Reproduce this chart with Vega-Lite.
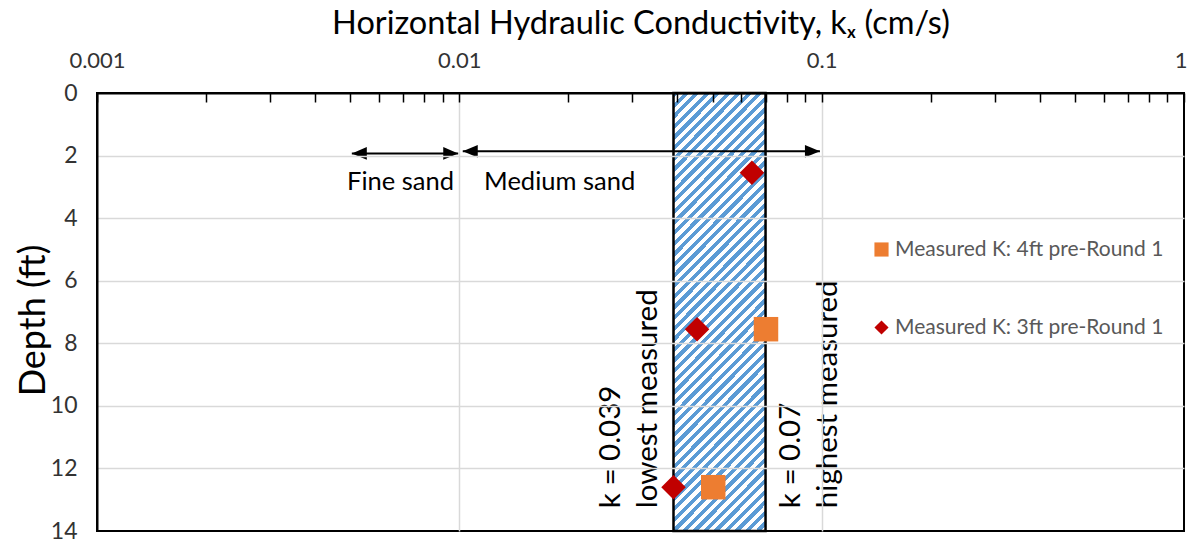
{
  "$schema": "https://vega.github.io/schema/vega-lite/v6.json",
  "width": 1087,
  "height": 438,
  "autosize": {"type": "none"},
  "padding": {"left": 97, "top": 93, "right": 4, "bottom": 15},
  "background": "white",
  "config": {"view": {"stroke": "black", "strokeWidth": 2}, "font": "Lato"},
  "datasets": {
    "range": [{"lo": 0.039, "hi": 0.07, "top": 0, "bottom": 14}],
    "arrows": [
      {"from": 0.00505, "to": 0.00993, "depth": 1.93},
      {"from": 0.01022, "to": 0.0989, "depth": 1.86}
    ],
    "labels": [
      {"text": "Fine sand", "k": 0.00688, "depth": 3.09},
      {"text": "Medium sand", "k": 0.01892, "depth": 3.09}
    ],
    "vlabels": [
      {"text": "k = 0.039", "k": 0.02775, "depth": 13.27},
      {"text": "lowest measured", "k": 0.03513, "depth": 13.27},
      {"text": "k = 0.07", "k": 0.08713, "depth": 13.27},
      {"text": "highest measured", "k": 0.1102, "depth": 13.27}
    ],
    "points": [
      {"series": "Measured K: 3ft pre-Round 1", "k": 0.0642, "depth": 2.55},
      {"series": "Measured K: 3ft pre-Round 1", "k": 0.0453, "depth": 7.55},
      {"series": "Measured K: 3ft pre-Round 1", "k": 0.039, "depth": 12.6},
      {"series": "Measured K: 4ft pre-Round 1", "k": 0.0702, "depth": 7.55},
      {"series": "Measured K: 4ft pre-Round 1", "k": 0.0502, "depth": 12.6}
    ]
  },
  "layer": [
    {
      "data": {"name": "range"},
      "mark": {
        "type": "rect",
        "stroke": "black",
        "strokeWidth": 2.5,
        "fill": {
          "gradient": "linear",
          "x1": 0, "y1": 0, "x2": 0.2463, "y2": 1.16,
          "stops": [
            {"offset": 0, "color": "#5B9BD5"}, {"offset": 0.01, "color": "#5B9BD5"}, {"offset": 0.01, "color": "#fff"}, {"offset": 0.02, "color": "#fff"},
            {"offset": 0.02, "color": "#5B9BD5"}, {"offset": 0.03, "color": "#5B9BD5"}, {"offset": 0.03, "color": "#fff"}, {"offset": 0.04, "color": "#fff"},
            {"offset": 0.04, "color": "#5B9BD5"}, {"offset": 0.05, "color": "#5B9BD5"}, {"offset": 0.05, "color": "#fff"}, {"offset": 0.06, "color": "#fff"},
            {"offset": 0.06, "color": "#5B9BD5"}, {"offset": 0.07, "color": "#5B9BD5"}, {"offset": 0.07, "color": "#fff"}, {"offset": 0.08, "color": "#fff"},
            {"offset": 0.08, "color": "#5B9BD5"}, {"offset": 0.09, "color": "#5B9BD5"}, {"offset": 0.09, "color": "#fff"}, {"offset": 0.1, "color": "#fff"},
            {"offset": 0.1, "color": "#5B9BD5"}, {"offset": 0.11, "color": "#5B9BD5"}, {"offset": 0.11, "color": "#fff"}, {"offset": 0.12, "color": "#fff"},
            {"offset": 0.12, "color": "#5B9BD5"}, {"offset": 0.13, "color": "#5B9BD5"}, {"offset": 0.13, "color": "#fff"}, {"offset": 0.14, "color": "#fff"},
            {"offset": 0.14, "color": "#5B9BD5"}, {"offset": 0.15, "color": "#5B9BD5"}, {"offset": 0.15, "color": "#fff"}, {"offset": 0.16, "color": "#fff"},
            {"offset": 0.16, "color": "#5B9BD5"}, {"offset": 0.17, "color": "#5B9BD5"}, {"offset": 0.17, "color": "#fff"}, {"offset": 0.18, "color": "#fff"},
            {"offset": 0.18, "color": "#5B9BD5"}, {"offset": 0.19, "color": "#5B9BD5"}, {"offset": 0.19, "color": "#fff"}, {"offset": 0.2, "color": "#fff"},
            {"offset": 0.2, "color": "#5B9BD5"}, {"offset": 0.21, "color": "#5B9BD5"}, {"offset": 0.21, "color": "#fff"}, {"offset": 0.22, "color": "#fff"},
            {"offset": 0.22, "color": "#5B9BD5"}, {"offset": 0.23, "color": "#5B9BD5"}, {"offset": 0.23, "color": "#fff"}, {"offset": 0.24, "color": "#fff"},
            {"offset": 0.24, "color": "#5B9BD5"}, {"offset": 0.25, "color": "#5B9BD5"}, {"offset": 0.25, "color": "#fff"}, {"offset": 0.26, "color": "#fff"},
            {"offset": 0.26, "color": "#5B9BD5"}, {"offset": 0.27, "color": "#5B9BD5"}, {"offset": 0.27, "color": "#fff"}, {"offset": 0.28, "color": "#fff"},
            {"offset": 0.28, "color": "#5B9BD5"}, {"offset": 0.29, "color": "#5B9BD5"}, {"offset": 0.29, "color": "#fff"}, {"offset": 0.3, "color": "#fff"},
            {"offset": 0.3, "color": "#5B9BD5"}, {"offset": 0.31, "color": "#5B9BD5"}, {"offset": 0.31, "color": "#fff"}, {"offset": 0.32, "color": "#fff"},
            {"offset": 0.32, "color": "#5B9BD5"}, {"offset": 0.33, "color": "#5B9BD5"}, {"offset": 0.33, "color": "#fff"}, {"offset": 0.34, "color": "#fff"},
            {"offset": 0.34, "color": "#5B9BD5"}, {"offset": 0.35, "color": "#5B9BD5"}, {"offset": 0.35, "color": "#fff"}, {"offset": 0.36, "color": "#fff"},
            {"offset": 0.36, "color": "#5B9BD5"}, {"offset": 0.37, "color": "#5B9BD5"}, {"offset": 0.37, "color": "#fff"}, {"offset": 0.38, "color": "#fff"},
            {"offset": 0.38, "color": "#5B9BD5"}, {"offset": 0.39, "color": "#5B9BD5"}, {"offset": 0.39, "color": "#fff"}, {"offset": 0.4, "color": "#fff"},
            {"offset": 0.4, "color": "#5B9BD5"}, {"offset": 0.41, "color": "#5B9BD5"}, {"offset": 0.41, "color": "#fff"}, {"offset": 0.42, "color": "#fff"},
            {"offset": 0.42, "color": "#5B9BD5"}, {"offset": 0.43, "color": "#5B9BD5"}, {"offset": 0.43, "color": "#fff"}, {"offset": 0.44, "color": "#fff"},
            {"offset": 0.44, "color": "#5B9BD5"}, {"offset": 0.45, "color": "#5B9BD5"}, {"offset": 0.45, "color": "#fff"}, {"offset": 0.46, "color": "#fff"},
            {"offset": 0.46, "color": "#5B9BD5"}, {"offset": 0.47, "color": "#5B9BD5"}, {"offset": 0.47, "color": "#fff"}, {"offset": 0.48, "color": "#fff"},
            {"offset": 0.48, "color": "#5B9BD5"}, {"offset": 0.49, "color": "#5B9BD5"}, {"offset": 0.49, "color": "#fff"}, {"offset": 0.5, "color": "#fff"},
            {"offset": 0.5, "color": "#5B9BD5"}, {"offset": 0.51, "color": "#5B9BD5"}, {"offset": 0.51, "color": "#fff"}, {"offset": 0.52, "color": "#fff"},
            {"offset": 0.52, "color": "#5B9BD5"}, {"offset": 0.53, "color": "#5B9BD5"}, {"offset": 0.53, "color": "#fff"}, {"offset": 0.54, "color": "#fff"},
            {"offset": 0.54, "color": "#5B9BD5"}, {"offset": 0.55, "color": "#5B9BD5"}, {"offset": 0.55, "color": "#fff"}, {"offset": 0.56, "color": "#fff"},
            {"offset": 0.56, "color": "#5B9BD5"}, {"offset": 0.57, "color": "#5B9BD5"}, {"offset": 0.57, "color": "#fff"}, {"offset": 0.58, "color": "#fff"},
            {"offset": 0.58, "color": "#5B9BD5"}, {"offset": 0.59, "color": "#5B9BD5"}, {"offset": 0.59, "color": "#fff"}, {"offset": 0.6, "color": "#fff"},
            {"offset": 0.6, "color": "#5B9BD5"}, {"offset": 0.61, "color": "#5B9BD5"}, {"offset": 0.61, "color": "#fff"}, {"offset": 0.62, "color": "#fff"},
            {"offset": 0.62, "color": "#5B9BD5"}, {"offset": 0.63, "color": "#5B9BD5"}, {"offset": 0.63, "color": "#fff"}, {"offset": 0.64, "color": "#fff"},
            {"offset": 0.64, "color": "#5B9BD5"}, {"offset": 0.65, "color": "#5B9BD5"}, {"offset": 0.65, "color": "#fff"}, {"offset": 0.66, "color": "#fff"},
            {"offset": 0.66, "color": "#5B9BD5"}, {"offset": 0.67, "color": "#5B9BD5"}, {"offset": 0.67, "color": "#fff"}, {"offset": 0.68, "color": "#fff"},
            {"offset": 0.68, "color": "#5B9BD5"}, {"offset": 0.69, "color": "#5B9BD5"}, {"offset": 0.69, "color": "#fff"}, {"offset": 0.7, "color": "#fff"},
            {"offset": 0.7, "color": "#5B9BD5"}, {"offset": 0.71, "color": "#5B9BD5"}, {"offset": 0.71, "color": "#fff"}, {"offset": 0.72, "color": "#fff"},
            {"offset": 0.72, "color": "#5B9BD5"}, {"offset": 0.73, "color": "#5B9BD5"}, {"offset": 0.73, "color": "#fff"}, {"offset": 0.74, "color": "#fff"},
            {"offset": 0.74, "color": "#5B9BD5"}, {"offset": 0.75, "color": "#5B9BD5"}, {"offset": 0.75, "color": "#fff"}, {"offset": 0.76, "color": "#fff"},
            {"offset": 0.76, "color": "#5B9BD5"}, {"offset": 0.77, "color": "#5B9BD5"}, {"offset": 0.77, "color": "#fff"}, {"offset": 0.78, "color": "#fff"},
            {"offset": 0.78, "color": "#5B9BD5"}, {"offset": 0.79, "color": "#5B9BD5"}, {"offset": 0.79, "color": "#fff"}, {"offset": 0.8, "color": "#fff"},
            {"offset": 0.8, "color": "#5B9BD5"}, {"offset": 0.81, "color": "#5B9BD5"}, {"offset": 0.81, "color": "#fff"}, {"offset": 0.82, "color": "#fff"},
            {"offset": 0.82, "color": "#5B9BD5"}, {"offset": 0.83, "color": "#5B9BD5"}, {"offset": 0.83, "color": "#fff"}, {"offset": 0.84, "color": "#fff"},
            {"offset": 0.84, "color": "#5B9BD5"}, {"offset": 0.85, "color": "#5B9BD5"}, {"offset": 0.85, "color": "#fff"}, {"offset": 0.86, "color": "#fff"},
            {"offset": 0.86, "color": "#5B9BD5"}, {"offset": 0.87, "color": "#5B9BD5"}, {"offset": 0.87, "color": "#fff"}, {"offset": 0.88, "color": "#fff"},
            {"offset": 0.88, "color": "#5B9BD5"}, {"offset": 0.89, "color": "#5B9BD5"}, {"offset": 0.89, "color": "#fff"}, {"offset": 0.9, "color": "#fff"},
            {"offset": 0.9, "color": "#5B9BD5"}, {"offset": 0.91, "color": "#5B9BD5"}, {"offset": 0.91, "color": "#fff"}, {"offset": 0.92, "color": "#fff"},
            {"offset": 0.92, "color": "#5B9BD5"}, {"offset": 0.93, "color": "#5B9BD5"}, {"offset": 0.93, "color": "#fff"}, {"offset": 0.94, "color": "#fff"},
            {"offset": 0.94, "color": "#5B9BD5"}, {"offset": 0.95, "color": "#5B9BD5"}, {"offset": 0.95, "color": "#fff"}, {"offset": 0.96, "color": "#fff"},
            {"offset": 0.96, "color": "#5B9BD5"}, {"offset": 0.97, "color": "#5B9BD5"}, {"offset": 0.97, "color": "#fff"}, {"offset": 0.98, "color": "#fff"},
            {"offset": 0.98, "color": "#5B9BD5"}, {"offset": 0.99, "color": "#5B9BD5"}, {"offset": 0.99, "color": "#fff"}, {"offset": 1, "color": "#fff"}
          ]
        }
      },
      "encoding": {
        "x": {
          "field": "lo", "type": "quantitative",
          "scale": {"type": "log", "domain": [0.001, 1], "nice": false},
          "axis": {
            "orient": "top",
            "title": "Horizontal Hydraulic Conductivity, kₓ (cm/s)",
            "values": [0.001, 0.002, 0.003, 0.004, 0.005, 0.006, 0.007, 0.008, 0.009, 0.01, 0.02, 0.03, 0.04, 0.05, 0.06, 0.07, 0.08, 0.09, 0.1, 0.2, 0.3, 0.4, 0.5, 0.6, 0.7, 0.8, 0.9, 1],
            "labelExpr": "(datum.value == 0.001 || datum.value == 0.01 || datum.value == 0.1 || datum.value == 1) ? format(datum.value, '~g') : ''",
            "labelOverlap": false,
            "labelFlush": false,
            "labelBound": false,
            "labelAlign": {"condition": {"test": "datum.value == 1", "value": "right"}, "value": "center"},
            "labelOffset": {"condition": {"test": "datum.value == 1", "value": 3}, "value": 0},
            "labelFont": "Lato",
            "labelFontSize": 22,
            "labelColor": "#333333",
            "labelPadding": 30,
            "tickSize": -9,
            "tickColor": "black",
            "tickWidth": 1.5,
            "domainColor": "black",
            "domainWidth": 2,
            "grid": true,
            "gridColor": "#d9d9d9",
            "gridWidth": 1.5,
            "gridOpacity": {"condition": {"test": "datum.value == 0.01 || datum.value == 0.1", "value": 1}, "value": 0},
            "titleFont": "Lato",
            "titleFontSize": 32.5,
            "titleFontWeight": "normal",
            "titleColor": "black",
            "titleX": 543.5,
            "titleY": -60,
            "titleAlign": "center",
            "titleBaseline": "alphabetic",
            "zindex": 1
          }
        },
        "x2": {"field": "hi"},
        "y": {
          "field": "top", "type": "quantitative",
          "scale": {"domain": [0, 14], "reverse": true, "nice": false},
          "axis": {
            "title": "Depth (ft)",
            "values": [0, 2, 4, 6, 8, 10, 12, 14],
            "ticks": false,
            "tickSize": 0,
            "labelPadding": 20,
            "labelFont": "Lato",
            "labelFontSize": 23,
            "labelColor": "#333333",
            "domainColor": "black",
            "domainWidth": 2,
            "grid": true,
            "gridColor": "#d9d9d9",
            "gridWidth": 1.5,
            "gridOpacity": {"condition": {"test": "datum.value == 0 || datum.value == 14", "value": 0}, "value": 1},
            "titleFont": "Lato",
            "titleFontSize": 36,
            "titleFontWeight": "normal",
            "titleColor": "black",
            "titleX": -53,
            "titleY": 227,
            "titleAngle": 270,
            "titleAlign": "center",
            "titleBaseline": "alphabetic",
            "zindex": 1
          }
        },
        "y2": {"field": "bottom"}
      }
    },
    {
      "data": {"name": "arrows"},
      "mark": {"type": "rule", "color": "black", "strokeWidth": 2},
      "encoding": {
        "x": {"field": "from", "type": "quantitative"},
        "x2": {"field": "to"},
        "y": {"field": "depth", "type": "quantitative"}
      }
    },
    {
      "data": {"name": "arrows"},
      "mark": {"type": "point", "shape": "M0,0L1,-0.42L1,0.42Z", "filled": true, "color": "black", "opacity": 1, "size": 900},
      "encoding": {
        "x": {"field": "from", "type": "quantitative"},
        "y": {"field": "depth", "type": "quantitative"}
      }
    },
    {
      "data": {"name": "arrows"},
      "mark": {"type": "point", "shape": "M0,0L-1,-0.42L-1,0.42Z", "filled": true, "color": "black", "opacity": 1, "size": 900},
      "encoding": {
        "x": {"field": "to", "type": "quantitative"},
        "y": {"field": "depth", "type": "quantitative"}
      }
    },
    {
      "data": {"name": "labels"},
      "mark": {"type": "text", "font": "Lato", "fontSize": 25.5, "align": "center", "baseline": "alphabetic", "color": "black"},
      "encoding": {
        "x": {"field": "k", "type": "quantitative"},
        "y": {"field": "depth", "type": "quantitative"},
        "text": {"field": "text"}
      }
    },
    {
      "data": {"name": "vlabels"},
      "mark": {"type": "text", "font": "Lato", "fontSize": 29.5, "angle": 270, "align": "left", "baseline": "alphabetic", "color": "black"},
      "encoding": {
        "x": {"field": "k", "type": "quantitative"},
        "y": {"field": "depth", "type": "quantitative"},
        "text": {"field": "text"}
      }
    },
    {
      "data": {"name": "points"},
      "mark": {"type": "point", "filled": true, "opacity": 1, "size": 600},
      "encoding": {
        "x": {"field": "k", "type": "quantitative"},
        "y": {"field": "depth", "type": "quantitative"},
        "color": {
          "field": "series", "type": "nominal",
          "scale": {"domain": ["Measured K: 4ft pre-Round 1", "Measured K: 3ft pre-Round 1"], "range": ["#ED7D31", "#C00000"]},
          "legend": {
            "orient": "none",
            "legendX": 774,
            "legendY": 146,
            "title": null,
            "padding": 0,
            "labelFont": "Lato",
            "labelFontSize": 21,
            "labelColor": "#595959",
            "labelOffset": 3,
            "labelLimit": 400,
            "symbolSize": 200,
            "symbolStrokeWidth": 0,
            "rowPadding": 56
          }
        },
        "shape": {
          "field": "series", "type": "nominal",
          "scale": {"domain": ["Measured K: 4ft pre-Round 1", "Measured K: 3ft pre-Round 1"], "range": ["square", "diamond"]}
        }
      }
    }
  ]
}
